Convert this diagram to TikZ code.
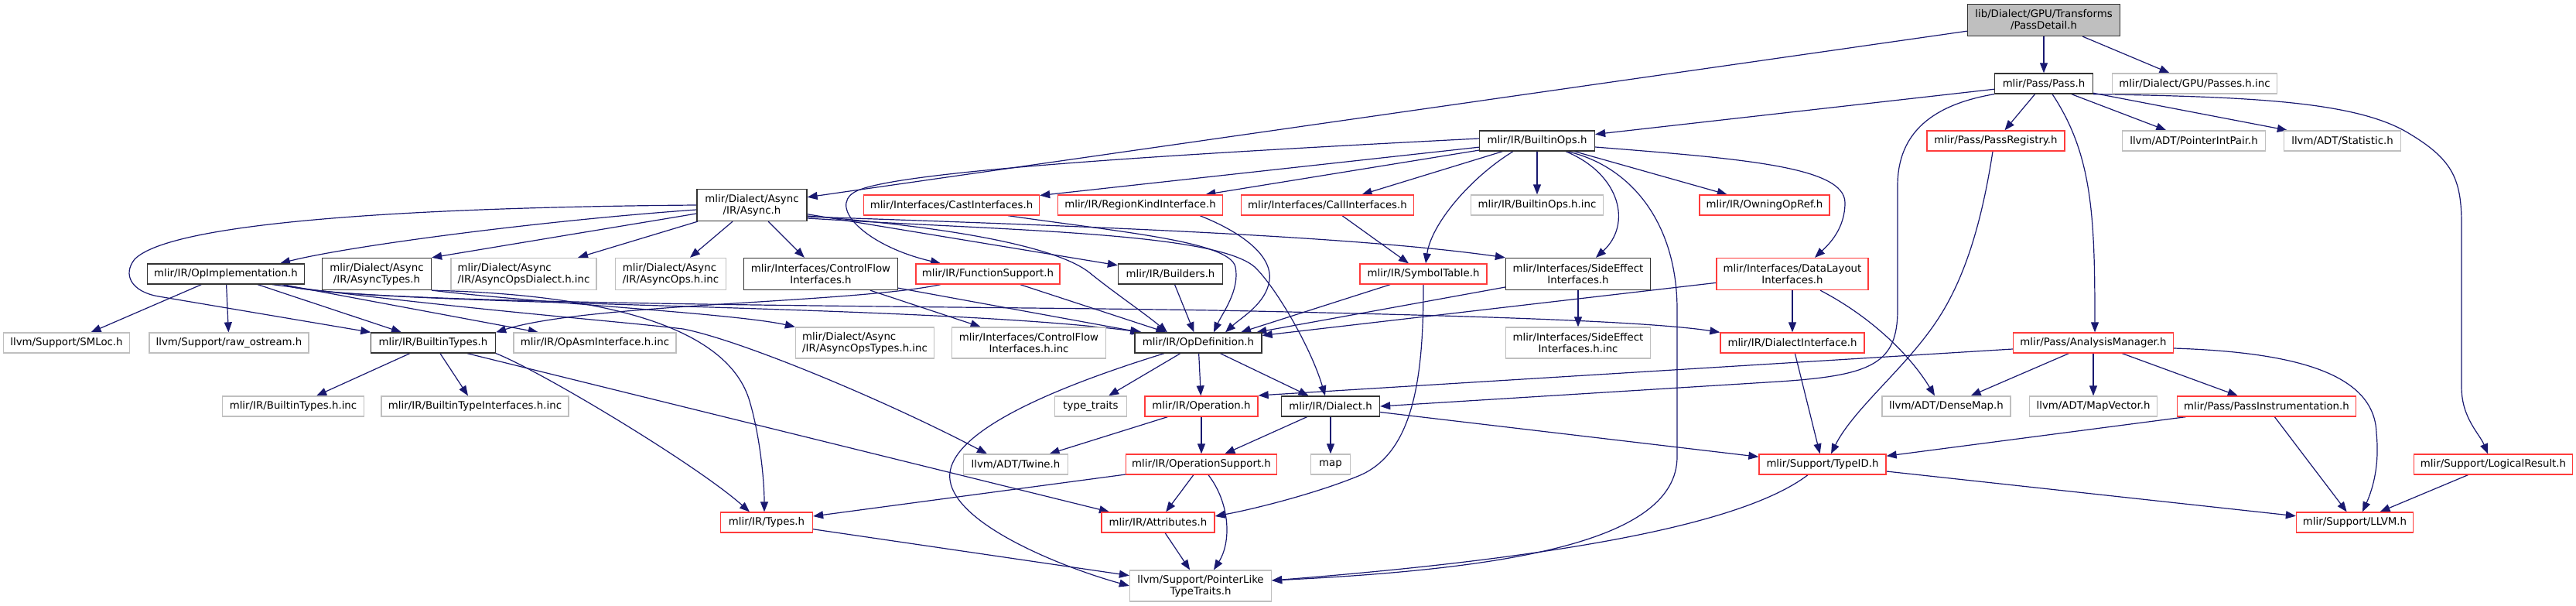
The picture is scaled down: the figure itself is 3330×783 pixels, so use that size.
\documentclass[tikz,border=0pt]{standalone}
\usepackage{fontspec}
\setmainfont{DejaVu Sans}
\usetikzlibrary{arrows.meta}
\definecolor{edgeblue}{HTML}{191970}
\definecolor{trred}{HTML}{FF3B3B}
\definecolor{ungray}{HTML}{BFBFBF}
\definecolor{docgray}{HTML}{333333}
\definecolor{rootfill}{HTML}{BFBFBF}
\pgfdeclarelayer{bg}
\pgfsetlayers{bg,main}
\begin{document}
\begin{tikzpicture}[x=1pt,y=-1pt,
  box/.style={rectangle, inner xsep=3pt, inner ysep=0pt, line width=1.3pt, minimum height=26pt,
    font=\fontsize{13.33pt}{15pt}\selectfont, text=black, fill=white},
  doc/.style={box, draw=docgray},
  trunc/.style={box, draw=trred},
  undoc/.style={box, draw=ungray},
  rootnode/.style={box, draw=docgray, fill=rootfill},
  two/.style={minimum height=41pt, align=center},
  twol/.style={minimum height=41pt, align=left},
  wd/.style={minimum width=#1},
  dep/.style={draw=edgeblue, line width=1.2pt, -{Triangle[length=13pt,width=10pt]}}
]
\useasboundingbox (0,0) rectangle (3330,783);

% ---------- nodes ----------
\node[rootnode,two,wd=197pt] (pd) at (2642,26) {lib/Dialect/GPU/Transforms\\/PassDetail.h};
\node[doc,wd=127pt] (pass) at (2642,108) {mlir/Pass/Pass.h};
\node[undoc,wd=213pt] (passesinc) at (2837,108) {mlir/Dialect/GPU/Passes.h.inc};
\node[doc,wd=149pt] (builtinops) at (1987,182) {mlir/IR/BuiltinOps.h};
\node[trunc,wd=178pt] (passreg) at (2580,182) {mlir/Pass/PassRegistry.h};
\node[undoc,wd=185pt] (ptrint) at (2836,182) {llvm/ADT/PointerIntPair.h};
\node[undoc,wd=151pt] (statistic) at (3028,182) {llvm/ADT/Statistic.h};
\node[doc,two,wd=142pt] (async) at (972,265) {mlir/Dialect/Async\\/IR/Async.h};
\node[trunc,wd=227pt] (cast) at (1230,265) {mlir/Interfaces/CastInterfaces.h};
\node[trunc,wd=213pt] (regionkind) at (1474,265) {mlir/IR/RegionKindInterface.h};
\node[trunc,wd=223pt] (callif) at (1716,265) {mlir/Interfaces/CallInterfaces.h};
\node[undoc,wd=171pt] (builtinopsinc) at (1987,265) {mlir/IR/BuiltinOps.h.inc};
\node[trunc,wd=168pt] (owning) at (2281,265) {mlir/IR/OwningOpRef.h};
\node[doc,wd=203pt] (opimpl) at (292,354) {mlir/IR/OpImplementation.h};
\node[doc,two,wd=141pt] (asynctypes) at (487,354) {mlir/Dialect/Async\\/IR/AsyncTypes.h};
\node[undoc,twol,wd=188pt] (asyncdialectinc) at (677,354) {mlir/Dialect/Async\\/IR/AsyncOpsDialect.h.inc};
\node[undoc,twol,wd=143pt] (asyncopsinc) at (867,354) {mlir/Dialect/Async\\/IR/AsyncOps.h.inc};
\node[doc,two,wd=199pt] (controlflow) at (1061,354) {mlir/Interfaces/ControlFlow\\Interfaces.h};
\node[trunc,wd=186pt] (funcsupport) at (1277,354) {mlir/IR/FunctionSupport.h};
\node[doc,wd=135pt] (builders) at (1513,354) {mlir/IR/Builders.h};
\node[trunc,wd=164pt] (symtab) at (1840,354) {mlir/IR/SymbolTable.h};
\node[doc,two,wd=187pt] (sideeffect) at (2040,354) {mlir/Interfaces/SideEffect\\Interfaces.h};
\node[trunc,two,wd=196pt] (datalayout) at (2317,354) {mlir/Interfaces/DataLayout\\Interfaces.h};
\node[undoc,wd=163pt] (smloc) at (86,443) {llvm/Support/SMLoc.h};
\node[undoc,wd=206pt] (rawos) at (296,443) {llvm/Support/raw\_ostream.h};
\node[doc,wd=161pt] (builtintypes) at (560,443) {mlir/IR/BuiltinTypes.h};
\node[undoc,wd=210pt] (opasminc) at (769,443) {mlir/IR/OpAsmInterface.h.inc};
\node[undoc,twol,wd=179pt,minimum height=40pt] (asyncopstypesinc) at (1118,443) {mlir/Dialect/Async\\/IR/AsyncOpsTypes.h.inc};
\node[undoc,two,wd=199pt,minimum height=40pt] (cfinc) at (1330,443) {mlir/Interfaces/ControlFlow\\Interfaces.h.inc};
\node[doc,wd=164pt] (opdef) at (1549,443) {mlir/IR/OpDefinition.h};
\node[undoc,two,wd=187pt,minimum height=40pt] (seinc) at (2040,443) {mlir/Interfaces/SideEffect\\Interfaces.h.inc};
\node[trunc,wd=186pt] (dialectif) at (2317,443) {mlir/IR/DialectInterface.h};
\node[trunc,wd=207pt] (analysis) at (2706,443) {mlir/Pass/AnalysisManager.h};
\node[undoc,wd=183pt] (btinc) at (379,525) {mlir/IR/BuiltinTypes.h.inc};
\node[undoc,wd=242pt] (btifinc) at (614,525) {mlir/IR/BuiltinTypeInterfaces.h.inc};
\node[undoc,wd=93pt] (typetraits) at (1410,525) {type\_traits};
\node[trunc,wd=146pt] (operation) at (1553,525) {mlir/IR/Operation.h};
\node[doc,wd=127pt] (dialect) at (1720,525) {mlir/IR/Dialect.h};
\node[undoc,wd=166pt] (densemap) at (2516,525) {llvm/ADT/DenseMap.h};
\node[undoc,wd=165pt] (mapvector) at (2706,525) {llvm/ADT/MapVector.h};
\node[trunc,wd=231pt] (passinstr) at (2930,525) {mlir/Pass/PassInstrumentation.h};
\node[undoc,wd=135pt] (twine) at (1313,600) {llvm/ADT/Twine.h};
\node[trunc,wd=195pt] (opsupport) at (1553,600) {mlir/IR/OperationSupport.h};
\node[undoc,wd=51pt] (map) at (1720,600) {map};
\node[trunc,wd=164pt] (typeid) at (2356,600) {mlir/Support/TypeID.h};
\node[trunc,wd=205pt] (logical) at (3223,600) {mlir/Support/LogicalResult.h};
\node[trunc,wd=119pt] (types) at (991,675) {mlir/IR/Types.h};
\node[trunc,wd=146pt] (attributes) at (1497,675) {mlir/IR/Attributes.h};
\node[trunc,wd=151pt] (llvm) at (3044,675) {mlir/Support/LLVM.h};
\node[undoc,two,wd=183pt,minimum height=40pt] (ptrlike) at (1552,757) {llvm/Support/PointerLike\\TypeTraits.h};

% ---------- edges ----------
\begin{pgfonlayer}{bg}
\draw[dep] (pd) -- (async);
\draw[dep] (pd) -- (pass);
\draw[dep] (pd) -- (passesinc);
\draw[dep] (pass) -- (builtinops);
\draw[dep] (pass) -- (passreg);
\draw[dep] (pass) -- (ptrint);
\draw[dep] (pass) -- (statistic);
\draw[dep] (pass.south west) .. controls (2500,135) and (2453,170) .. (2453,240) -- (2453,400)
  .. controls (2453,470) and (2420,485) .. (2300,493) -- (dialect.east);
\draw[dep] ([xshift=11pt]pass.south) .. controls (2705,200) and (2708,280) .. ([xshift=2pt]analysis.north);
\draw[dep] (pass.south east) .. controls (2900,125) and (3040,130) .. (3110,170)
  .. controls (3170,205) and (3182,230) .. (3182,290) -- (3182,500)
  .. controls (3182,540) and (3205,560) .. ([xshift=-7pt]logical.north);
\draw[dep] ([xshift=-4pt]passreg.south) .. controls (2560,300) and (2535,370) .. (2500,420)
  .. controls (2460,478) and (2395,530) .. ([xshift=11pt]typeid.north);

\draw[dep] (builtinops) -- (cast);
\draw[dep] (builtinops) -- (regionkind);
\draw[dep] (builtinops) -- (callif);
\draw[dep] (builtinops) -- (builtinopsinc);
\draw[dep] ([xshift=-31pt]builtinops.south) .. controls (1900,230) and (1850,290) .. ([xshift=3pt]symtab.north);
\draw[dep] ([xshift=37pt]builtinops.south) .. controls (2095,225) and (2110,290) .. ([xshift=23pt]sideeffect.north);
\draw[dep] (builtinops) -- (owning);
\draw[dep] ([yshift=-8pt]builtinops.east) .. controls (2250,205) and (2385,215) .. (2385,262)
  .. controls (2385,295) and (2365,315) .. ([xshift=29pt]datalayout.north);
\draw[dep] ([xshift=39pt]builtinops.south) .. controls (2110,215) and (2168,290) .. (2168,400) -- (2168,590)
  .. controls (2168,700) and (1950,735) .. ([yshift=7pt]ptrlike.east);
\draw[dep] ([yshift=3pt]builtinops.west) .. controls (1500,200) and (1150,222) .. (1105,248)
  .. controls (1070,268) and (1120,318) .. ([xshift=-61pt]funcsupport.north);

\draw[dep] (async.west) .. controls (520,268) and (220,288) .. (174,335)
  .. controls (158,355) and (170,377) .. (205,383) -- (builtintypes);
\draw[dep] ([yshift=-6pt]async.west) .. controls (700,285) and (450,318) .. ([xshift=70pt]opimpl.north);
\draw[dep] ([yshift=-11pt]async.west) -- (asynctypes.north east);
\draw[dep] (async) -- (asyncdialectinc);
\draw[dep] (async) -- (asyncopsinc);
\draw[dep] (async) -- (controlflow);
\draw[dep] (async) -- (builders);
\draw[dep] ([yshift=-14pt]async.east) .. controls (1250,295) and (1370,322) .. (1408,352)
  .. controls (1440,378) and (1480,405) .. ([xshift=-40pt]opdef.north);
\draw[dep] ([yshift=-15pt]async.east) .. controls (1400,292) and (1750,305) .. (sideeffect.north west);
\draw[dep] ([yshift=-17pt]async.east) .. controls (1300,298) and (1570,300) .. (1622,345)
  .. controls (1650,372) and (1695,450) .. ([xshift=-7pt]dialect.north);

\draw[dep] (opimpl) -- (smloc);
\draw[dep] (opimpl) -- (rawos);
\draw[dep] (opimpl) -- (builtintypes);
\draw[dep] (opimpl) -- (opasminc);
\draw[dep] ([xshift=60pt]opimpl.south) .. controls (600,400) and (800,415) .. (883,425)
  .. controls (960,440) and (1150,520) .. ([xshift=-37pt]twine.north);
\draw[dep] ([xshift=75pt]opimpl.south) .. controls (430,395) and (1200,392) .. ([xshift=-73pt]opdef.north);
\draw[dep] ([xshift=75pt]opimpl.south) .. controls (430,396) and (1300,395) .. (1620,402)
  .. controls (1900,408) and (2130,415) .. (dialectif.north west);

\draw[dep] (asynctypes.south east) .. controls (700,392) and (950,405) .. (asyncopstypesinc.north west);
\draw[dep] (asynctypes.south east) .. controls (760,380) and (935,415) .. (968,515)
  .. controls (982,560) and (988,620) .. ([xshift=-3pt]types.north);

\draw[dep] (builtintypes) -- (btinc);
\draw[dep] (builtintypes) -- (btifinc);
\draw[dep] (builtintypes.south east) .. controls (700,480) and (900,600) .. ([xshift=-22pt]types.north);
\draw[dep] ([xshift=44pt]builtintypes.south) -- ([xshift=-63pt]attributes.north);

\draw[dep] (controlflow) -- (cfinc);
\draw[dep] (controlflow) -- (opdef);
\draw[dep] (funcsupport) -- (opdef);
\draw[dep] ([xshift=-61pt]funcsupport.south) .. controls (1100,392) and (760,392) .. (builtintypes.north east);
\draw[dep] (builders) -- (opdef);
\draw[dep] (symtab) -- ([xshift=55pt]opdef.north);
\draw[dep] (symtab.south) .. controls (1840,480) and (1830,585) .. (1756,615)
  .. controls (1700,638) and (1620,658) .. ([yshift=8pt]attributes.east);
\draw[dep] (sideeffect) -- (seinc);
\draw[dep] (sideeffect) -- (opdef);
\draw[dep] (datalayout) -- (opdef);
\draw[dep] (datalayout) -- (dialectif);
\draw[dep] ([xshift=36pt]datalayout.south) .. controls (2420,410) and (2470,460) .. ([xshift=-15pt]densemap.north);
\draw[dep] (dialectif) -- (typeid);
\draw[dep] (callif) -- (symtab);
\draw[dep] ([xshift=73pt]cast.south) .. controls (1450,300) and (1590,312) .. (1597,345)
  .. controls (1603,375) and (1580,405) .. ([xshift=20pt]opdef.north);
\draw[dep] ([xshift=77pt]regionkind.south) .. controls (1605,300) and (1645,330) .. (1641,362)
  .. controls (1637,392) and (1605,410) .. ([xshift=35pt]opdef.north);

\draw[dep] ([yshift=-8pt]analysis.west) -- ([yshift=14pt]operation.east);
\draw[dep] (analysis) -- (densemap);
\draw[dep] (analysis) -- (mapvector);
\draw[dep] (analysis) -- (passinstr);
\draw[dep] ([yshift=-7pt]analysis.east) .. controls (2960,455) and (3070,480) .. (3072,560)
  .. controls (3076,600) and (3068,630) .. ([xshift=10pt]llvm.north);
\draw[dep] (passinstr) -- (typeid);
\draw[dep] (passinstr) -- (llvm);
\draw[dep] (logical) -- (llvm);
\draw[dep] (typeid) -- (llvm);
\draw[dep] ([xshift=-19pt]typeid.south) .. controls (2250,680) and (2000,722) .. ([yshift=7pt]ptrlike.east);

\draw[dep] (dialect) -- (map);
\draw[dep] (dialect) -- (opsupport);
\draw[dep] (dialect) -- (typeid);
\draw[dep] (opdef) -- (typetraits);
\draw[dep] (opdef) -- (operation);
\draw[dep] (opdef) -- (dialect);
\draw[dep] ([xshift=-44pt]opdef.south) .. controls (1300,520) and (1222,575) .. (1228,620)
  .. controls (1236,680) and (1380,735) .. (ptrlike.west);
\draw[dep] (operation) -- (opsupport);
\draw[dep] (operation) -- (twine);
\draw[dep] (opsupport) -- (attributes);
\draw[dep] ([xshift=9pt]opsupport.south) .. controls (1590,650) and (1592,700) .. ([xshift=17pt]ptrlike.north);
\draw[dep] (opsupport) -- (types);
\draw[dep] (attributes) -- (ptrlike);
\draw[dep] (types) -- (ptrlike);
\end{pgfonlayer}
\end{tikzpicture}
\end{document}
